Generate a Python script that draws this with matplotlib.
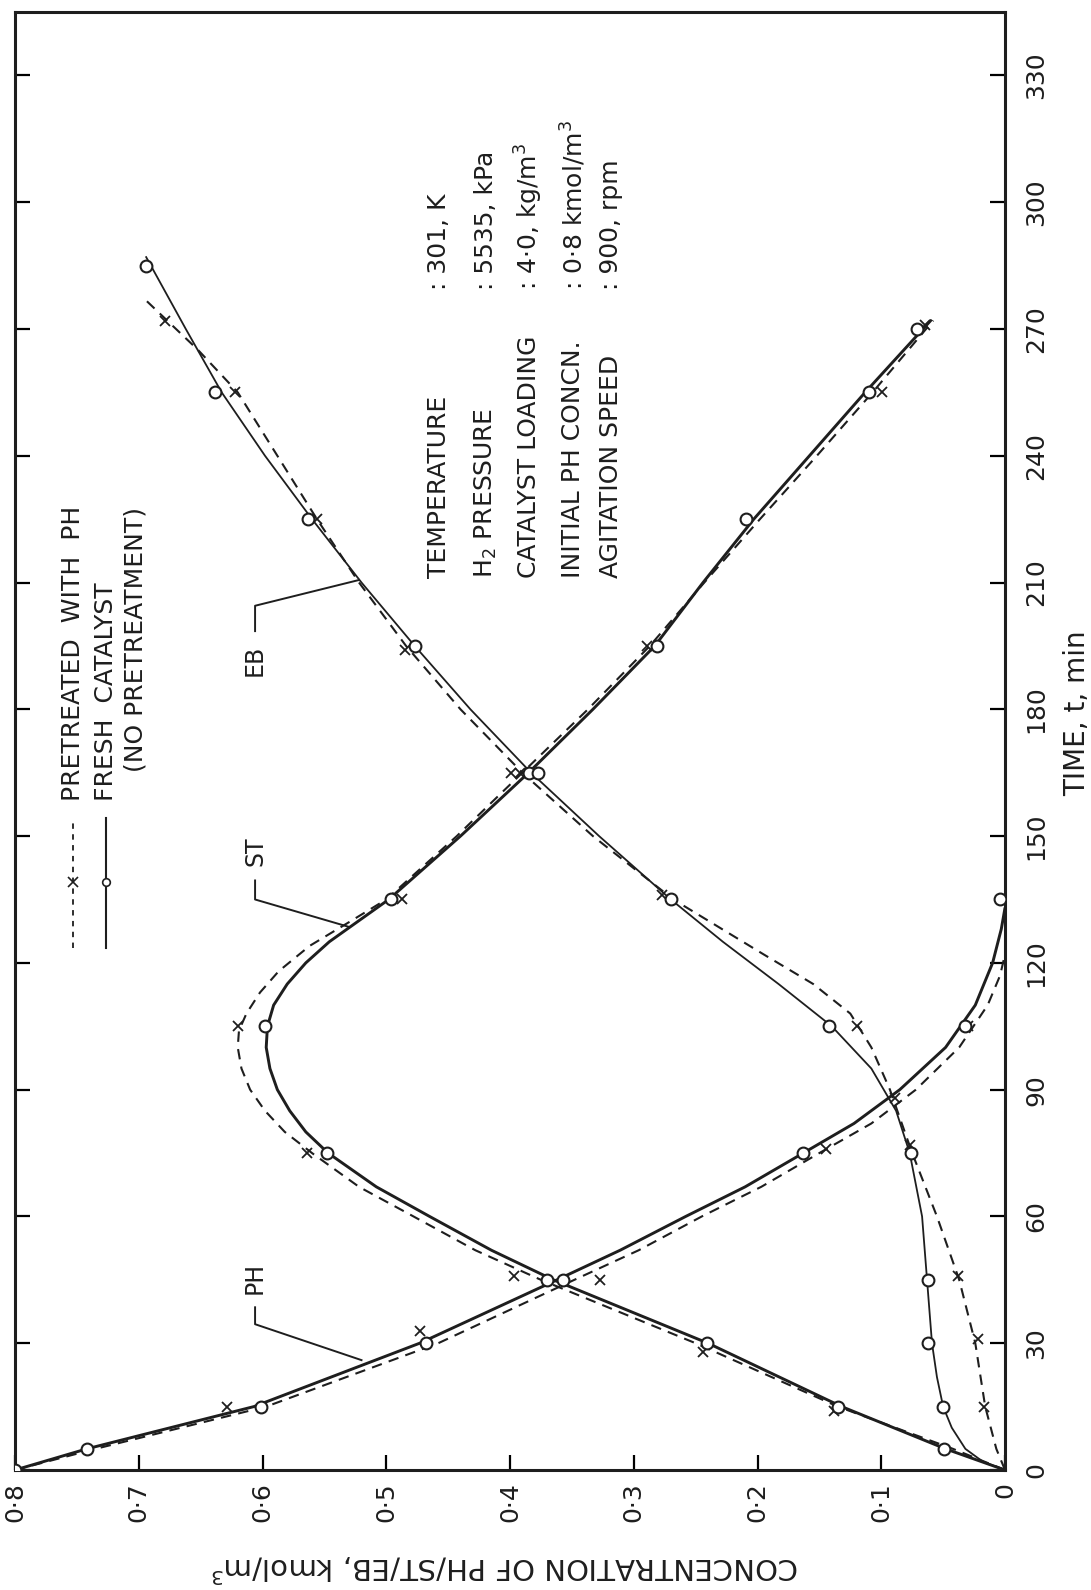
import numpy as np
import matplotlib
matplotlib.use("Agg")
import matplotlib.pyplot as plt
from matplotlib.lines import Line2D

W, H = 1091, 1590
INK = "#1e1e1e"

# ---- measured points (t in min, concentration in kmol/m3) ----
# fresh catalyst (no pretreatment), circles
ph_fresh_t = [0, 5, 15, 30, 45, 75, 105, 135]
ph_fresh_c = [0.80, 0.742, 0.601, 0.468, 0.357, 0.163, 0.032, 0.004]
st_fresh_t = [5, 15, 30, 45, 75, 105, 135, 165, 195, 225, 255, 270]
st_fresh_c = [0.049, 0.135, 0.241, 0.370, 0.548, 0.598, 0.496, 0.385, 0.281, 0.209, 0.110, 0.071]
eb_fresh_t = [15, 30, 45, 75, 105, 135, 165, 195, 225, 255, 285]
eb_fresh_c = [0.050, 0.062, 0.062, 0.076, 0.142, 0.270, 0.377, 0.477, 0.563, 0.638, 0.694]

# pretreated with PH, crosses
ph_pre_t = [15, 33, 45, 76, 105]
ph_pre_c = [0.629, 0.473, 0.327, 0.145, 0.030]
st_pre_t = [14, 28, 46, 75, 105, 135, 165, 195, 255, 271]
st_pre_c = [0.138, 0.244, 0.397, 0.564, 0.620, 0.487, 0.399, 0.289, 0.099, 0.065]
eb_pre_t = [15, 31, 46, 77, 88, 105, 136, 165, 194, 225, 255, 272]
eb_pre_c = [0.017, 0.022, 0.038, 0.077, 0.089, 0.120, 0.277, 0.392, 0.485, 0.556, 0.622, 0.679]

# ---- hand drawn curves ----
ph_fresh_curve_t = [0, 5, 15, 30, 45, 52, 60, 67, 75, 82, 90, 100, 110, 120, 128, 133]
ph_fresh_curve_c = [0.80, 0.742, 0.607, 0.473, 0.362, 0.311, 0.258, 0.210, 0.163, 0.122, 0.085,
                    0.048, 0.024, 0.010, 0.003, 0.0]
ph_pre_curve_t = [0, 5, 15, 30, 45, 52, 60, 67, 75, 82, 90, 100, 110, 117, 122]
ph_pre_curve_c = [0.80, 0.735, 0.597, 0.458, 0.348, 0.296, 0.245, 0.197, 0.150, 0.108, 0.072,
                  0.037, 0.014, 0.004, 0.0]

st_fresh_curve_t = [0, 5, 15, 30, 45, 52, 60, 67, 75, 80, 85, 90, 95, 100, 105, 110, 115, 120,
                    125, 130, 135, 150, 165, 180, 195, 210, 225, 240, 255, 272]
st_fresh_curve_c = [0, 0.048, 0.132, 0.240, 0.365, 0.415, 0.465, 0.508, 0.547, 0.565, 0.578,
                    0.588, 0.594, 0.597, 0.596, 0.591, 0.580, 0.565, 0.546, 0.522, 0.498, 0.440,
                    0.385, 0.333, 0.283, 0.244, 0.203, 0.158, 0.113, 0.060]
st_pre_curve_t = [0, 5, 15, 30, 45, 52, 60, 67, 75, 80, 85, 90, 95, 100, 104, 108, 113, 118,
                  124, 130, 135, 150, 165, 180, 195, 210, 225, 240, 255, 272]
st_pre_curve_c = [0, 0.042, 0.135, 0.250, 0.375, 0.428, 0.478, 0.522, 0.560, 0.582, 0.598,
                  0.610, 0.617, 0.620, 0.619, 0.613, 0.602, 0.587, 0.562, 0.528, 0.500, 0.443,
                  0.390, 0.337, 0.287, 0.243, 0.198, 0.152, 0.107, 0.058]

eb_fresh_curve_t = [0, 2, 5, 10, 15, 22, 30, 45, 60, 75, 85, 95, 105, 115, 125, 135, 150, 165,
                    180, 195, 210, 225, 240, 255, 270, 287]
eb_fresh_curve_c = [0, 0.018, 0.032, 0.043, 0.050, 0.055, 0.059, 0.063, 0.067, 0.077, 0.088, 0.108,
                    0.140, 0.183, 0.228, 0.270, 0.328, 0.383, 0.432, 0.477, 0.520, 0.560, 0.598,
                    0.633, 0.662, 0.694]
eb_pre_curve_t = [0, 5, 15, 30, 45, 60, 75, 90, 100, 108, 115, 122, 135, 150, 165, 180, 195, 210,
                  225, 240, 255, 265, 277]
eb_pre_curve_c = [0, 0.007, 0.016, 0.024, 0.037, 0.055, 0.075, 0.093, 0.108, 0.125, 0.155, 0.195,
                  0.268, 0.333, 0.390, 0.440, 0.484, 0.522, 0.556, 0.588, 0.620, 0.652, 0.695]

conc_ticks = [0.8, 0.7, 0.6, 0.5, 0.4, 0.3, 0.2, 0.1, 0.0]
conc_ticklabels = ["0·8", "0·7", "0·6", "0·5", "0·4", "0·3", "0·2", "0·1", "0"]
time_ticks = list(range(0, 331, 30))

cond_labels = ["TEMPERATURE", "H$_2$ PRESSURE", "CATALYST LOADING",
               "INITIAL PH CONCN.", "AGITATION SPEED"]
cond_values = [": 301, K", ": 5535, kPa", ": 4·0, kg/m$^3$",
               ": 0·8 kmol/m$^3$", ": 900, rpm"]


def fx(x):
    return x / W


def fy(y):
    return 1 - y / H


fig = plt.figure(figsize=(W / 100, H / 100), dpi=100)
ax = fig.add_axes([fx(15), fy(1470), 990 / W, 1458 / H])
ax.set_xlim(0.8, 0.0)
ax.set_ylim(0, 345)

solid = dict(color=INK, lw=2.1, ls="-", solid_capstyle="round", solid_joinstyle="round")
dashed = dict(color=INK, lw=1.5, ls=(0, (5, 3.5)))
circ = dict(ls="none", marker="o", ms=8.5, mfc="white", mec=INK, mew=1.5, zorder=5)
cross = dict(ls="none", marker="x", ms=7.5, mec=INK, mew=1.3, zorder=5)

ax.plot(ph_pre_curve_c, ph_pre_curve_t, **dashed)
ax.plot(st_pre_curve_c, st_pre_curve_t, **dashed)
ax.plot(eb_pre_curve_c, eb_pre_curve_t, **dashed)
ax.plot(ph_fresh_curve_c, ph_fresh_curve_t, **solid)
ax.plot(st_fresh_curve_c, st_fresh_curve_t, **solid)
ax.plot(eb_fresh_curve_c, eb_fresh_curve_t, color=INK, lw=1.3, solid_joinstyle="round")

ax.plot(ph_pre_c, ph_pre_t, **cross)
ax.plot(st_pre_c, st_pre_t, **cross)
ax.plot(eb_pre_c, eb_pre_t, **cross)
ax.plot(ph_fresh_c, ph_fresh_t, **circ)
ax.plot(st_fresh_c, st_fresh_t, **circ)
ax.plot(eb_fresh_c, eb_fresh_t, **circ)

for s in ax.spines.values():
    s.set_linewidth(2.2)
    s.set_color(INK)

ax.set_xticks(conc_ticks)
ax.set_xticklabels(conc_ticklabels, rotation=90, fontsize=18, color=INK)
ax.tick_params(axis="x", direction="in", length=11, width=1.6, pad=9, top=False)
ax.set_yticks(time_ticks)
ax.set_yticklabels([str(v) for v in time_ticks], rotation=90, va="center", fontsize=18, color=INK)
ax.tick_params(axis="y", direction="in", length=11, width=1.6, pad=14,
               left=True, right=True, labelleft=False, labelright=True)

# curve labels with leaders
lab = dict(rotation=90, ha="center", va="center", fontsize=17, color=INK)
ax.text(0.606, 45.5, "PH", **lab)
ax.plot([0.606, 0.606, 0.520], [38.5, 34.5, 26.0], color=INK, lw=1.4)
ax.text(0.606, 146.5, "ST", **lab)
ax.plot([0.606, 0.606, 0.530], [139.5, 135.0, 128.5], color=INK, lw=1.4)
ax.text(0.606, 191.5, "EB", **lab)
ax.plot([0.606, 0.606, 0.522], [198.5, 204.5, 210.6], color=INK, lw=1.4)

# legend
fig.add_artist(Line2D([fx(73), fx(73)], [fy(948), fy(818)], transform=fig.transFigure,
                      color=INK, lw=1.3, ls=(0, (3, 3))))
fig.add_artist(Line2D([fx(73)], [fy(882)], transform=fig.transFigure, color=INK,
                      marker="x", ms=7, mew=1.2, ls="none"))
fig.add_artist(Line2D([fx(106), fx(106)], [fy(948), fy(818)], transform=fig.transFigure,
                      color=INK, lw=1.5))
fig.add_artist(Line2D([fx(106)], [fy(882)], transform=fig.transFigure, color=INK,
                      marker="o", ms=5.5, mfc="white", mew=1.2, ls="none"))
leg = dict(rotation=90, ha="center", va="bottom", fontsize=18, color=INK)
fig.text(fx(73), fy(801), "PRETREATED  WITH  PH", **leg)
fig.text(fx(106), fy(801), "FRESH  CATALYST", **leg)
fig.text(fx(135), fy(772), "(NO PRETREATMENT)", **leg)

# operating conditions
cond_x = [439, 486, 529, 573, 611]
for x, lbl, val in zip(cond_x, cond_labels, cond_values):
    fig.text(fx(x), fy(578), lbl, rotation=90, ha="center", va="bottom", fontsize=18, color=INK)
    fig.text(fx(x), fy(290), val, rotation=90, ha="center", va="bottom", fontsize=18, color=INK)

# axis titles
fig.text(fx(1077), fy(796), "TIME, t, min", rotation=90, ha="center", va="bottom",
         fontsize=20, color=INK)
fig.text(fx(505), fy(1567), "CONCENTRATION OF PH/ST/EB, kmol/m$^3$", rotation=180,
         ha="center", va="center", fontsize=21, color=INK)

fig.savefig("out.png", dpi=100)
